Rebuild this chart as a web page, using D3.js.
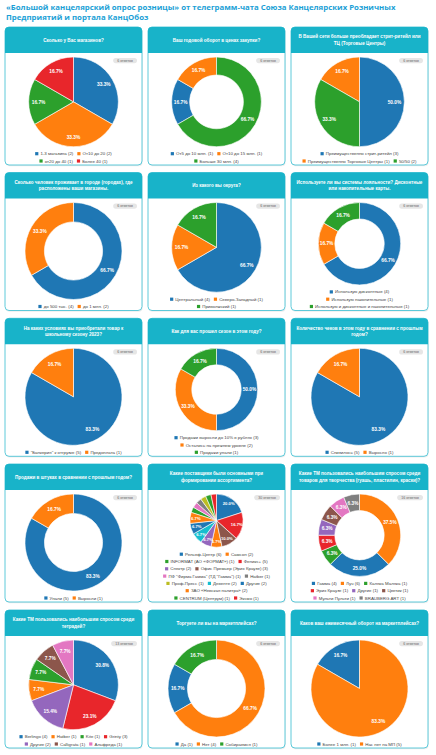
<!DOCTYPE html>
<html>
<head>
<meta charset="utf-8">
<title>Большой канцелярский опрос розницы</title>
<script src="https://d3js.org/d3.v7.min.js"></script>
<style>
  body { margin:0; background:#fff; }
  svg { display:block; font-family:"Liberation Sans", Arial, sans-serif; }
</style>
</head>
<body>
<div id="chart"></div>
<script>
// ---- data ----
var shopsLabels = ["1-3 магазина", "От10 до 20", "от20 до 40", "Более 40"];
var shopsValues = [2, 2, 1, 1];

var turnoverLabels = ["От5 до 10 млн.", "От10 до 15 млн.", "Больше 30 млн."];
var turnoverValues = [1, 1, 4];

var retailLabels = ["Преимущественно стрит-ритейл", "Преимущественно Торговые Центры", "50/50"];
var retailValues = [3, 1, 2];

var cityLabels = ["до 500 тыс.", "до 1 млн."];
var cityValues = [4, 2];

var districtLabels = ["Центральный", "Северо-Западный", "Приволжский"];
var districtValues = [4, 1, 1];

var loyaltyLabels = ["Использую дисконтные", "Использую накопительные", "Использую и дисконтные и накопительные"];
var loyaltyValues = [4, 1, 1];

var termsLabels = ["\"Банкерия\" к отгрузке", "Предоплата"];
var termsValues = [5, 1];

var seasonLabels = ["Продажи выросли до 10% в рублях", "Остались на прежнем уровне", "Продажи упали"];
var seasonValues = [3, 2, 1];

var checksLabels = ["Снизилось", "Выросло"];
var checksValues = [5, 1];

var unitsLabels = ["Упали", "Выросли"];
var unitsValues = [5, 1];

var supplierLabels = ["Рельеф-Центр", "Самсон", "INFORMAT (АО «ФОРМАТ»)", "Феникс+", "Спектр",
  "Офис Премьер (Эрих Краузе)", "ПФ \"Фирма Гамма\" (ТД \"Гамма\")", "Hatber", "Проф-Пресс",
  "Девенте", "Другие", "ЗАО «Невская палитра»", "CENTRUM (Центрум)", "Эксмо"];
var supplierValues = [6, 2, 1, 5, 2, 3, 1, 1, 1, 2, 2, 2, 1, 1];

var artLabels = ["Гамма", "Луч", "Каляка Маляка", "Эрих Краузе", "Другие", "Цветик", "Мульти Пульти", "BRAUBERG ART"];
var artValues = [4, 6, 1, 1, 1, 1, 1, 1];

var notebookLabels = ["Berlingo", "Hatber", "Kite", "Grinty", "Другие", "Calligrata", "Альфреда"];
var notebookValues = [4, 1, 1, 3, 2, 1, 1];

var mpLabels = ["Да", "Нет", "Собираемся"];
var mpValues = [1, 4, 1];

var mpTurnoverLabels = ["Более 1 млн.", "Нас нет на МП"];
var mpTurnoverValues = [1, 5];

var palette = ["#1f77b4", "#ff7f0e", "#2ca02c", "#e8262b", "#9467bd",
               "#8c564b", "#e377c2", "#7f7f7f", "#bcbd22", "#17becf"];

// panels, in reading order; rows = legend items per line
var charts = [
  {title:["Сколько у Вас магазинов?"], labels:shopsLabels, values:shopsValues, donut:false, answers:6, rows:[2,2]},
  {title:["Ваш годовой оборот в ценах закупки?"], labels:turnoverLabels, values:turnoverValues, donut:true, answers:6, rows:[2,1]},
  {title:["В Вашей сети больше преобладает стрит-ритейл или", "ТЦ (Торговые Центры)"], labels:retailLabels, values:retailValues, donut:false, answers:6, rows:[1,2]},
  {title:["Сколько человек проживает в городе (городах), где", "расположены ваши магазины."], labels:cityLabels, values:cityValues, donut:true, answers:6, rows:[2]},
  {title:["Из какого вы округа?"], labels:districtLabels, values:districtValues, donut:false, answers:6, rows:[2,1]},
  {title:["Используете ли вы системы лояльности? Дисконтные", "или накопительные карты."], labels:loyaltyLabels, values:loyaltyValues, donut:true, answers:6, rows:[1,1,1]},
  {title:["На каких условиях вы приобретали товар к", "школьному сезону 2023?"], labels:termsLabels, values:termsValues, donut:false, answers:6, rows:[2]},
  {title:["Как для вас прошел сезон в этом году?"], labels:seasonLabels, values:seasonValues, donut:true, answers:6, rows:[1,1,1]},
  {title:["Количество чеков в этом году в сравнении с прошлым", "годом?"], labels:checksLabels, values:checksValues, donut:false, answers:6, rows:[2]},
  {title:["Продажи в штуках в сравнении с прошлым годом?"], labels:unitsLabels, values:unitsValues, donut:true, answers:6, rows:[2]},
  {title:["Какие поставщики были основными при", "формировании ассортимента?"], labels:supplierLabels, values:supplierValues, donut:false, answers:30, rows:[2,2,2,2,3,1,2]},
  {title:["Какие ТМ пользовались наибольшим спросом среди", "товаров для творчества (гуашь, пластилин, краски)?"], labels:artLabels, values:artValues, donut:true, answers:16, rows:[3,3,2]},
  {title:["Какие ТМ пользовались наибольшим спросом среди", "тетрадей?"], labels:notebookLabels, values:notebookValues, donut:false, answers:13, rows:[4,3]},
  {title:["Торгуете ли вы на маркетплейсах?"], labels:mpLabels, values:mpValues, donut:true, answers:6, rows:[3]},
  {title:["Каков ваш ежемесячный оборот на маркетплейсах?"], labels:mpTurnoverLabels, values:mpTurnoverValues, donut:false, answers:6, rows:[2]}
];

// ---- layout ----
var W = 436, H = 755;
var cardW = 137, cardH = 138, headH = 26;
var colX = [5, 148, 291];
var rowY = [27, 172.5, 318.3, 464, 610];
var lineH = 7.3;

var svg = d3.select("#chart").append("svg").attr("width", W).attr("height", H);

// page title
var titleLines = ["«Большой канцелярский опрос розницы» от телеграмм-чата Союза Канцелярских Розничных",
                  "Предприятий и портала КанцОбоз"];
svg.selectAll("text.page-title").data(titleLines).enter()
  .append("text").attr("class", "page-title")
  .attr("x", 6).attr("y", function(d, i){ return 10 + i * 9.6; })
  .style("font-family", "'Open Sans', sans-serif")
  .style("font-weight", "700").style("font-size", "7.8px")
  .attr("fill", "#1b9fd6")
  .text(function(d){ return d; });

charts.forEach(function(c, i) {
  var g = svg.append("g")
    .attr("transform", "translate(" + colX[i % 3] + "," + rowY[Math.floor(i / 3)] + ")");

  // card
  g.append("rect").attr("x", 0.6).attr("y", 1.2).attr("width", cardW).attr("height", cardH)
    .attr("rx", 4).attr("fill", "rgba(0,0,0,0.07)");
  g.append("rect").attr("width", cardW).attr("height", cardH).attr("rx", 4)
    .attr("fill", "#fff").attr("stroke", "#4cc4d6").attr("stroke-width", 0.9);
  g.append("path")
    .attr("d", "M0," + headH + "V4Q0,0 4,0H" + (cardW - 4) + "Q" + cardW + ",0 " + cardW + ",4V" + headH + "Z")
    .attr("fill", "#18b3c9");

  // header text
  c.title.forEach(function(line, k) {
    g.append("text")
      .attr("x", cardW / 2)
      .attr("y", headH / 2 + (k - (c.title.length - 1) / 2) * 6.7)
      .attr("dy", "0.35em")
      .attr("text-anchor", "middle")
      .attr("fill", "#fff")
      .style("font-weight", "700").style("font-size", "4.6px")
      .text(line);
  });

  // answers badge
  var badge = g.append("g");
  var bt = badge.append("text")
    .attr("y", headH + 7.6).attr("dy", "0.35em")
    .attr("text-anchor", "middle")
    .attr("fill", "#666").style("font-size", "3.6px")
    .text(c.answers + " ответов");
  var bw = bt.node().getComputedTextLength() + 8;
  var bx = cardW - 5 - bw;
  badge.insert("rect", "text").attr("x", bx).attr("y", headH + 5).attr("width", bw).attr("height", 5.2)
    .attr("rx", 2.6).attr("fill", "#e6e6e6");
  bt.attr("x", bx + bw / 2);

  // legend rows
  var firstY = cardH - 4 - (c.rows.length - 1) * lineH;
  var idx = 0;
  c.rows.forEach(function(n, row) {
    var items = d3.range(idx, idx + n);
    idx += n;
    var lg = g.append("g");
    var x = 0;
    items.forEach(function(j) {
      lg.append("rect").attr("x", x).attr("y", firstY + row * lineH - 1.6)
        .attr("width", 3.2).attr("height", 3.2).attr("fill", palette[j % palette.length]);
      var t = lg.append("text").attr("x", x + 5.3).attr("y", firstY + row * lineH)
        .attr("dy", "0.35em").attr("fill", "#444").style("font-size", "4.4px")
        .text(c.labels[j] + " (" + c.values[j] + ")");
      x += 5.3 + t.node().getComputedTextLength() + 4;
    });
    var w = x - 4;
    lg.attr("transform", "translate(" + ((cardW - w) / 2) + ",0)");
  });

  // pie / donut
  var top = headH + 4, bottom = firstY - 7;
  var r = (bottom - top) / 2;
  var cx = cardW / 2, cy = top + r;
  var inner = c.donut ? r * 0.6 : 0;
  var data = c.values.map(function(v, j){ return {value: v, index: j}; });
  var total = d3.sum(c.values);

  var pie = d3.pie().value(function(d){ return d.value; })
    .sort(function(a, b){ return b.value - a.value; });
  var arc = d3.arc().innerRadius(inner).outerRadius(r);
  var labelR = c.donut ? (inner + r) / 2 : r * 0.78;
  var labelArc = d3.arc().innerRadius(labelR).outerRadius(labelR);

  var pg = g.append("g").attr("transform", "translate(" + cx + "," + cy + ")");
  var arcs = pie(data);
  pg.selectAll("path").data(arcs).enter().append("path")
    .attr("d", arc)
    .attr("fill", function(d){ return palette[d.data.index % palette.length]; })
    .attr("stroke", "#fff").attr("stroke-width", 0.6);

  pg.selectAll("text").data(arcs.filter(function(d){ return d.data.value / total >= 0.05; }))
    .enter().append("text")
    .attr("transform", function(d){ return "translate(" + labelArc.centroid(d) + ")"; })
    .attr("dy", "0.35em").attr("text-anchor", "middle")
    .attr("fill", "#fff").style("font-weight", "700")
    .style("font-size", r < 35 ? "4.2px" : "4.8px")
    .text(function(d){ return (d.data.value / total * 100).toFixed(1) + "%"; });
});
</script>
</body>
</html>
